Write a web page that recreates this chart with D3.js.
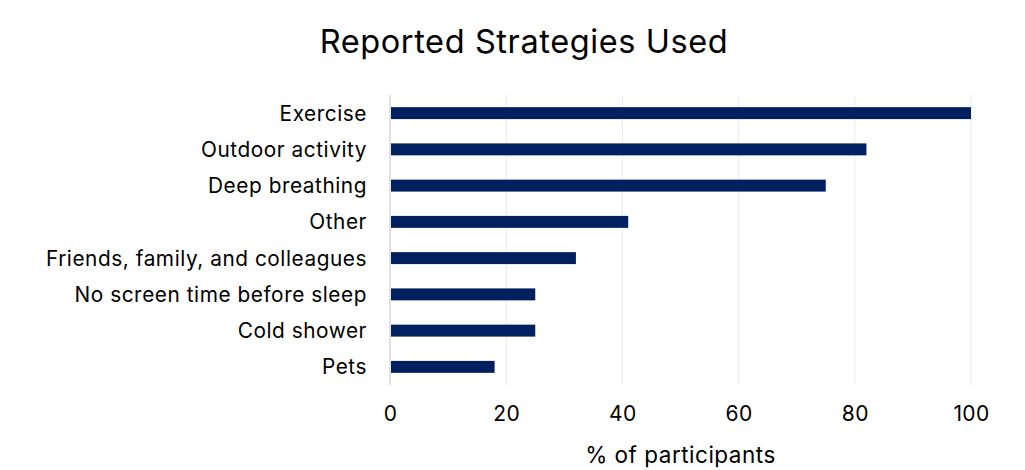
<!DOCTYPE html>
<html>
<head>
<meta charset="utf-8">
<script src="https://cdn.jsdelivr.net/npm/d3@7"></script>
<style>
  html, body { margin: 0; padding: 0; background: #fff; }
  svg { display: block; font-family: Inter, "Open Sans", sans-serif; }
</style>
</head>
<body>
<svg id="chart" width="1025" height="470"></svg>
<script>
// Strategies and share of participants reporting each
const categories = [
  "Exercise",
  "Outdoor activity",
  "Deep breathing",
  "Other",
  "Friends, family, and colleagues",
  "No screen time before sleep",
  "Cold shower",
  "Pets"
];
const values = [100, 82, 75, 41, 32, 25, 25, 18];
const xTicks = [0, 20, 40, 60, 80, 100];

const svg = d3.select("#chart");
const margin = { left: 390, right: 54, top: 95, bottom: 85 };
const width = 1025, height = 470;
const font = "Inter, 'Open Sans', sans-serif";

const x = d3.scaleLinear().domain([0, 100]).range([margin.left, width - margin.right]);
const y = d3.scaleBand().domain(categories).range([margin.top, height - margin.bottom]).paddingInner(0.67).paddingOuter(0.335);

// Title
svg.append("text")
  .attr("x", 524).attr("y", 53)
  .attr("text-anchor", "middle")
  .attr("font-size", 32.5)
  .attr("letter-spacing", 0.6)
  .attr("fill", "#000")
  .text("Reported Strategies Used");

// Vertical gridlines
svg.append("g").selectAll("line")
  .data(xTicks.filter(d => d > 0))
  .join("line")
  .attr("x1", d => x(d)).attr("x2", d => x(d))
  .attr("y1", margin.top).attr("y2", height - margin.bottom)
  .attr("stroke", "#ebebeb").attr("stroke-width", 1);

// Category axis line
svg.append("line")
  .attr("x1", x(0)).attr("x2", x(0))
  .attr("y1", margin.top).attr("y2", height - margin.bottom)
  .attr("stroke", "#d9d9d9").attr("stroke-width", 1.5);

// Bars
svg.append("g").selectAll("rect")
  .data(categories)
  .join("rect")
  .attr("x", x(0) + 1)
  .attr("y", d => y(d))
  .attr("width", (d, i) => x(values[i]) - x(0) - 1)
  .attr("height", y.bandwidth())
  .attr("fill", "#002060");

// Category labels
const yAxis = d3.axisLeft(y).tickSize(0).tickPadding(23);
const gy = svg.append("g").attr("transform", `translate(${x(0)},0)`).call(yAxis);
gy.select(".domain").remove();
gy.selectAll("text")
  .attr("font-size", 20.8)
  .attr("letter-spacing", 0.55)
  .attr("dy", "0.36em")
  .attr("fill", "#000")
  .attr("font-family", font);

// Value axis
const xAxis = d3.axisBottom(x).tickValues(xTicks).tickSize(0).tickPadding(21);
const gx = svg.append("g").attr("transform", `translate(0,${height - margin.bottom})`).call(xAxis);
gx.select(".domain").remove();
gx.selectAll("text")
  .attr("font-size", 21)
  .attr("letter-spacing", 0.4)
  .attr("fill", "#000")
  .attr("font-family", font);

// Axis title
svg.append("text")
  .attr("x", (x(0) + x(100)) / 2).attr("y", 463)
  .attr("text-anchor", "middle")
  .attr("font-size", 22.5)
  .attr("letter-spacing", 0.5)
  .attr("fill", "#000")
  .text("% of participants");
</script>
</body>
</html>
